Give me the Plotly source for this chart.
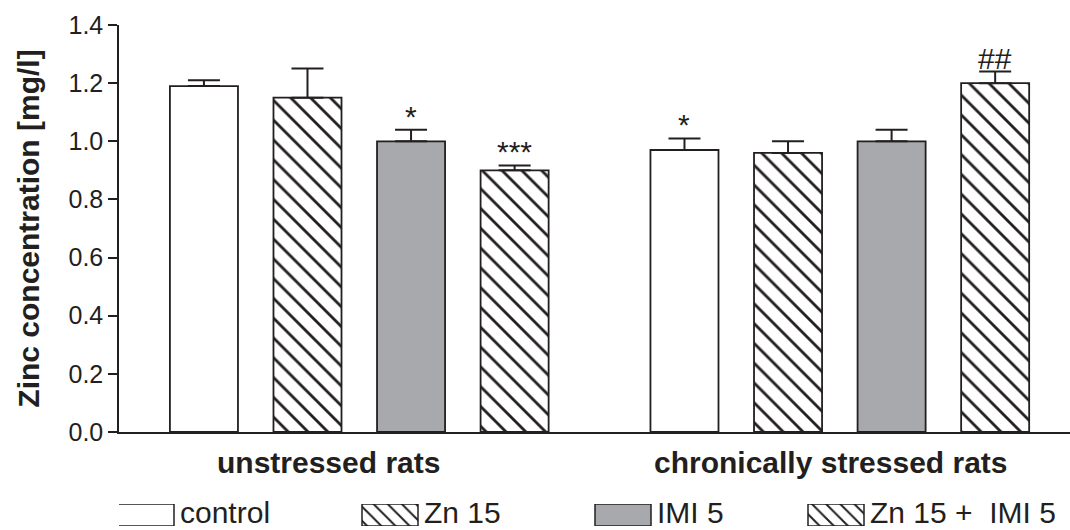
import plotly.graph_objects as go

groups = ["unstressed rats", "chronically stressed rats"]
series = ["control", "Zn 15", "IMI 5", "Zn 15 +\u00a0 IMI 5"]
values = {
    "control": [1.19, 0.97],
    "Zn 15": [1.15, 0.96],
    "IMI 5": [1.00, 1.00],
    "Zn 15 +\u00a0 IMI 5": [0.90, 1.20],
}
errors = {
    "control": [0.02, 0.04],
    "Zn 15": [0.10, 0.04],
    "IMI 5": [0.04, 0.04],
    "Zn 15 +\u00a0 IMI 5": [0.017, 0.04],
}
# significance markers: (series, group index, label)
signif = [("IMI 5", 0, "*"), ("Zn 15 +\u00a0 IMI 5", 0, "***"),
          ("control", 1, "*"), ("Zn 15 +\u00a0 IMI 5", 1, "##")]

INK = "#231f20"
GRAY = "#a7a9ac"
FONT = "Liberation Sans, Arial, sans-serif"


def fill(s, size):
    if s == "IMI 5":
        return dict(color=GRAY)
    if s == "control":
        return dict(color="white")
    return dict(color="white", pattern=dict(shape="\\", fgcolor=INK, bgcolor="white",
                                            size=size, solidity=0.2, fillmode="replace"))


W, H = 1070, 530
ML, MT = 119, 25
AXIS_BOTTOM_PX = 432
BARGAP = 0.138
BARGROUPGAP = 0.343

fig = go.Figure()
for s in series:
    fig.add_trace(go.Bar(
        name=s, x=groups, y=values[s], showlegend=False,
        marker=dict(**fill(s, 14), line=dict(color=INK, width=1.8)),
        error_y=dict(type="data", symmetric=False, array=errors[s],
                     arrayminus=[0] * len(groups), color=INK, thickness=2, width=16),
    ))

# significance labels above error bars
slot = (1 - BARGAP) / len(series)
for s, g, lab in signif:
    i = series.index(s)
    xpos = g + (i - (len(series) - 1) / 2) * slot
    fig.add_annotation(x=xpos, y=values[s][g] + errors[s][g], text=lab, showarrow=False,
                       yanchor="bottom", yshift=-5, font=dict(family=FONT, size=30, color=INK))

# group labels under the axis
label_shift = [-31, -9]
for g, name in enumerate(groups):
    fig.add_annotation(x=g, y=0, text="<b>" + name + "</b>", showarrow=False,
                       yanchor="top", yshift=-12, xshift=label_shift[g],
                       font=dict(family=FONT, size=30, color=INK))

# custom legend with wide swatches (x2/y2 in pixel-like units)
legend_left = [118, 362, 595, 808]
SW = 56
LEG_BOTTOM = 4
for s, lx in zip(series, legend_left):
    fig.add_trace(go.Bar(
        x=[lx + SW / 2], y=[1], base=[0], width=[SW], xaxis="x2", yaxis="y2",
        showlegend=False, cliponaxis=False, hoverinfo="skip",
        marker=dict(**fill(s, 10), line=dict(color=INK, width=1.5)),
    ))
    fig.add_annotation(x=lx + SW + 4, xref="x2", y=0, yref="paper", text=s,
                       xanchor="left", yanchor="bottom", yshift=-1, showarrow=False,
                       font=dict(family=FONT, size=30, color=INK))

paper_h = H - MT
fig.update_layout(
    width=W, height=H,
    margin=dict(l=ML, r=0, t=MT, b=0, pad=0),
    paper_bgcolor="white", plot_bgcolor="white",
    barmode="group", bargap=BARGAP, bargroupgap=BARGROUPGAP,
    font=dict(family=FONT, color=INK, size=25),
    showlegend=False,
    xaxis=dict(range=[-0.5, 1.479], showticklabels=False, ticks="", automargin=False,
               showline=True, linecolor=INK, linewidth=1.5, showgrid=False, zeroline=False,
               anchor="y"),
    yaxis=dict(domain=[(H - AXIS_BOTTOM_PX) / paper_h, 1], range=[0, 1.4], dtick=0.2,
               tickformat=".1f", ticks="outside", ticklen=9, tickwidth=2, tickcolor=INK,
               showline=True, linecolor=INK, linewidth=1.5, automargin=False,
               showgrid=False, zeroline=False, tickfont=dict(family=FONT, size=25, color=INK),
               title=dict(text="<b>Zinc concentration [mg/l]</b>", standoff=20,
                          font=dict(family=FONT, size=30, color=INK)), anchor="x"),
    xaxis2=dict(domain=[0, 1], range=[ML, W], anchor="y2", visible=False, fixedrange=True),
    yaxis2=dict(domain=[LEG_BOTTOM / paper_h, (LEG_BOTTOM + 22) / paper_h], range=[0, 1],
                anchor="x2", visible=False, fixedrange=True),
)

fig.write_html("out.html", config={"displayModeBar": False},
               post_script="document.body.style.margin='0';document.body.style.overflow='hidden';")
